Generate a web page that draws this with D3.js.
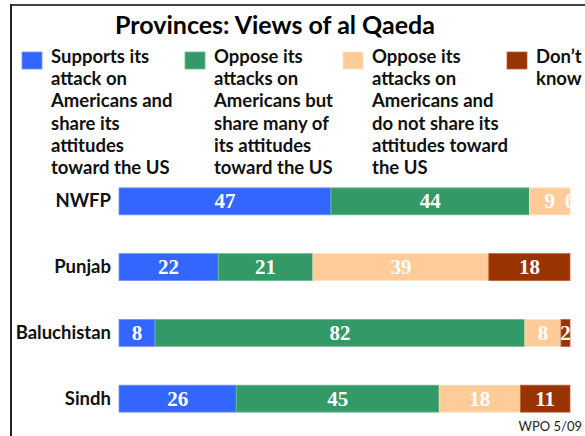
<!DOCTYPE html>
<html><head><meta charset="utf-8">
<script src="https://cdn.jsdelivr.net/npm/d3@7"></script>
<style>body{margin:0;background:#fff}svg{display:block}</style>
</head><body>
<svg id="c" width="585" height="436"></svg>
<script>
const title = "Provinces: Views of al Qaeda";
const categories = ["NWFP", "Punjab", "Baluchistan", "Sindh"];
const seriesNames = [
  ["Supports its", "attack on", "Americans and", "share its", "attitudes", "toward the US"],
  ["Oppose its", "attacks on", "Americans but", "share many of", "its attitudes", "toward the US"],
  ["Oppose its", "attacks on", "Americans and", "do not share its", "attitudes toward", "the US"],
  ["Don’t", "know"]
];
const supports = [47, 22, 8, 26];
const opposeShare = [44, 21, 82, 45];
const opposeNotShare = [9, 39, 8, 18];
const dontKnow = [0, 18, 2, 11];
const colors = ["#3366FF", "#339966", "#FFCC99", "#993300"];
const strokes = ["#6f94ff", "#6cbb92", "#ffe0c2", "#b8603a"];
const source = "WPO 5/09";

const series = [supports, opposeShare, opposeNotShare, dontKnow];
const svg = d3.select("#c");
const sansBold = "'Lato','Open Sans',sans-serif";

// frame
svg.append("line").attr("x1",11).attr("x2",585).attr("y1",5).attr("y2",5).attr("stroke","#444").attr("stroke-width",2);
svg.append("line").attr("x1",11).attr("x2",11).attr("y1",4).attr("y2",436).attr("stroke","#222").attr("stroke-width",2);

svg.append("text").attr("x",275).attr("y",34).attr("text-anchor","middle")
  .attr("font-family",sansBold).attr("font-weight","bold").attr("font-size",25).attr("fill","#000").text(title);

// legend
const legendX = [22, 185, 343, 507];
seriesNames.forEach((lines, i) => {
  svg.append("rect").attr("x",legendX[i]).attr("y",52).attr("width",20).attr("height",17).attr("fill",colors[i]).attr("stroke",strokes[i]).attr("stroke-width",0.8);
  const t = svg.append("text").attr("font-family",sansBold).attr("font-weight","bold").attr("font-size",18.5).attr("fill","#111");
  lines.forEach((l, j) => t.append("tspan").attr("x",legendX[i]+29).attr("y",63+j*22.2).text(l));
});

const x = d3.scaleLinear().domain([0,100]).range([119,570]);
const y = d3.scaleBand().domain(categories).range([178,422]).paddingInner(0.59).paddingOuter(0.15);

const stacked = categories.map((c, ci) => {
  let acc = 0;
  return series.map((s, si) => { const v = s[ci]; const seg = {cat:c, si, v, x0:acc, x1:acc+v}; acc += v; return seg; });
}).flat();

svg.append("g").selectAll("rect").data(stacked).join("rect")
  .attr("x", d => x(d.x0)).attr("width", d => x(d.x1)-x(d.x0))
  .attr("y", d => y(d.cat)).attr("height", y.bandwidth())
  .attr("fill", d => colors[d.si]).attr("stroke", d => strokes[d.si]).attr("stroke-width", d => d.v>0?0.8:0);

svg.append("g").selectAll("text").data(stacked).join("text")
  .attr("x", d => (x(d.x0)+x(d.x1))/2).attr("y", d => y(d.cat)+y.bandwidth()/2+7)
  .attr("text-anchor","middle").attr("font-family","'Liberation Serif','DejaVu Serif',serif").attr("font-weight","bold")
  .attr("font-size",21).attr("fill","#fff").text(d => d.v);

// category labels
svg.append("g").selectAll("text").data(categories).join("text")
  .attr("x",111).attr("y", d => y(d)+y.bandwidth()/2+6).attr("text-anchor","end")
  .attr("font-family",sansBold).attr("font-weight","bold").attr("font-size",18.5).attr("fill","#111").text(d => d);

svg.append("text").attr("x",582).attr("y",431).attr("text-anchor","end").attr("font-family","'Lato','Open Sans',sans-serif")
  .attr("font-size",13).attr("fill","#222").text(source);
</script>
</body></html>
